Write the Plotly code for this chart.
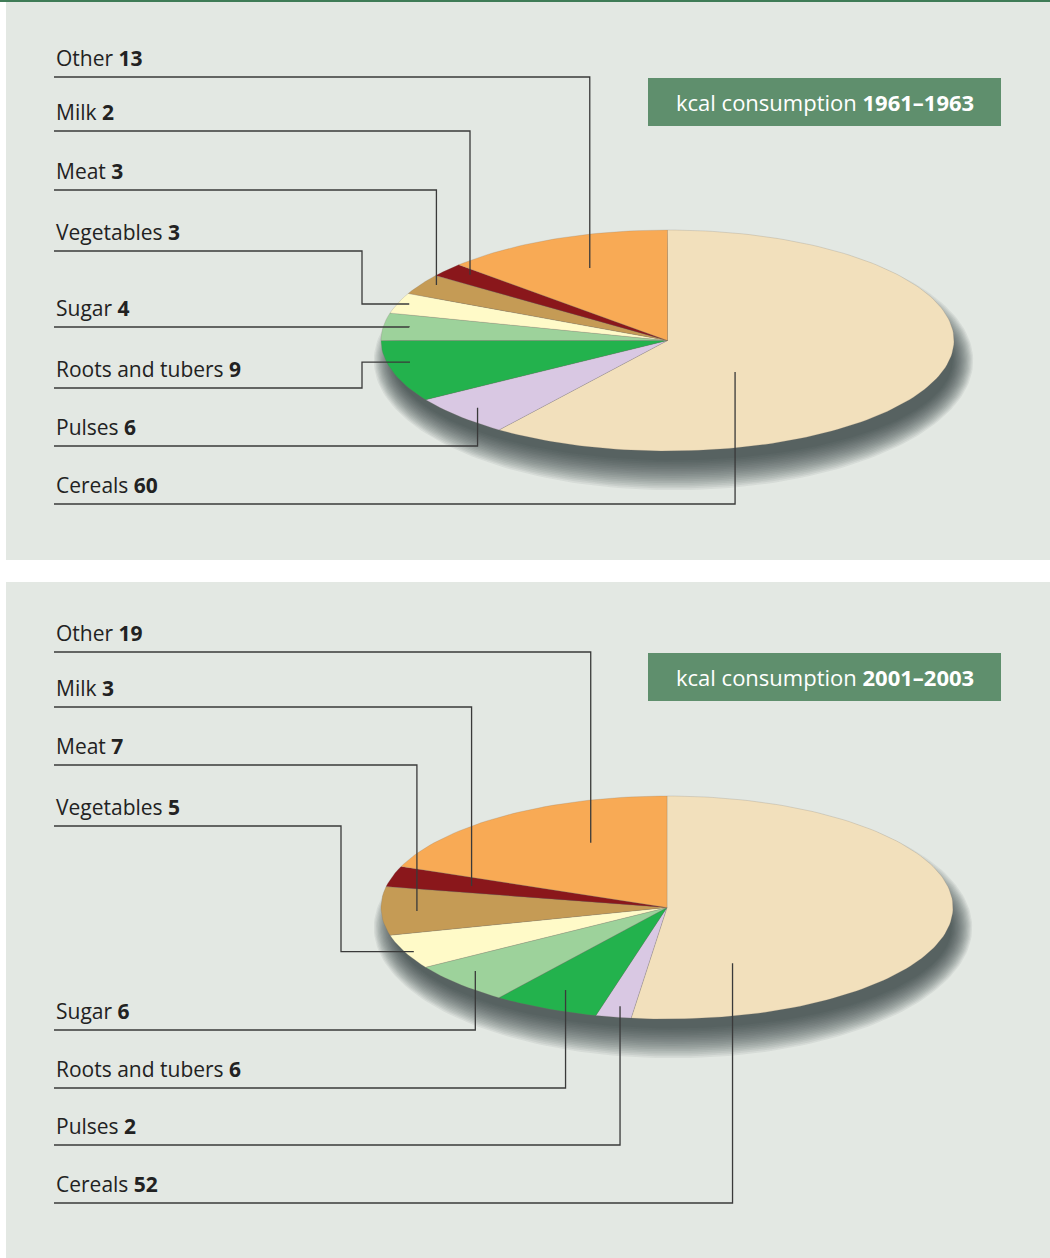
import numpy as np
import plotly.graph_objects as go

# share of daily kcal by food group (%)
categories = ["Cereals", "Pulses", "Roots and tubers", "Sugar", "Vegetables", "Meat", "Milk", "Other"]
share_1961 = [60, 6, 9, 4, 3, 3, 2, 13]
share_2001 = [52, 2, 6, 6, 5, 7, 3, 19]
periods = ["1961–1963", "2001–2003"]

colours = ["#f2e0bc", "#d9c8e3", "#23b24d", "#9dd29b", "#fffac8", "#c59b55", "#8a171b", "#f8aa55"]

FONT = "Open Sans"
W, H = 1050, 1258

# panel geometry (pixel space), leader anchors as (fraction within slice, fraction of radius)
panels = [
    dict(values=share_1961, period=periods[0], top=2, bottom=560,
         cx=667.5, cy=340.5, rx=286.5, ry=110.5, box=(648, 78, 1001, 126),
         label_y=[504, 446, 388, 327, 251, 190, 131, 77],
         anchor=[(0.65, 0.37), (0.53, 0.90), (0.62, 0.92), (0.53, 0.91),
                 (0.53, 0.96), (0.62, 0.95), (0.66, 0.91), (0.52, 0.71)],
         elbow={2: 362, 4: 362}),
    dict(values=share_2001, period=periods[1], top=582, bottom=1258,
         cx=667, cy=907.5, rx=286, ry=111.5, box=(648, 653, 1001, 701),
         label_y=[1203, 1145, 1088, 1030, 826, 765, 707, 652],
         anchor=[(0.83, 0.55), (0.46, 0.90), (0.52, 0.82), (0.63, 0.88),
                 (0.46, 0.97), (0.49, 0.875), (0.46, 0.71), (0.64, 0.64)],
         elbow={4: 341}),
]


def ell(cx, cy, rx, ry, a0=0.0, a1=2 * np.pi, n=240):
    t = np.linspace(a0, a1, max(int(n * (a1 - a0) / (2 * np.pi)), 3))
    return cx + rx * np.sin(t), cy - ry * np.cos(t)


fig = go.Figure()
shapes = [dict(type="rect", xref="x", yref="y", x0=0, x1=W, y0=0, y1=2,
               fillcolor="#3f7c57", line_width=0, layer="below")]
annotations = []

for p in panels:
    shapes.append(dict(type="rect", xref="x", yref="y", x0=6, x1=W, y0=p["top"], y1=p["bottom"],
                       fillcolor="#e3e8e3", line_width=0, layer="below"))
    cx, cy, rx, ry = p["cx"], p["cy"], p["rx"], p["ry"]

    # soft drop shadow, below the disc only
    for i in range(18):
        grow = 24 - 2.2 * i
        xs, ys = ell(cx + 6, cy + 20, rx + 0.55 * grow, ry + 0.8 * grow)
        fig.add_trace(go.Scatter(x=xs, y=ys, fill="toself", mode="lines", line_width=0,
                                 fillcolor="rgba(45,50,55,0.07)", hoverinfo="skip", showlegend=False))

    # slices, clockwise from 12 o'clock
    total = sum(p["values"])
    cum = np.concatenate([[0], np.cumsum(p["values"])]) / total * 2 * np.pi
    for k, cat in enumerate(categories):
        ax, ay = ell(cx, cy, rx, ry, cum[k], cum[k + 1])
        xs = np.concatenate([[cx], ax, [cx]])
        ys = np.concatenate([[cy], ay, [cy]])
        fig.add_trace(go.Scatter(x=xs, y=ys, fill="toself", mode="lines",
                                 line=dict(color="rgba(120,110,100,0.35)", width=0.6),
                                 fillcolor=colours[k], name=cat, hoverinfo="name", showlegend=False))

    # leaders and labels
    for k, cat in enumerate(categories):
        t, f = p["anchor"][k]
        th = cum[k] + t * (cum[k + 1] - cum[k])
        axp = cx + f * rx * np.sin(th)
        ayp = cy - f * ry * np.cos(th)
        uy = p["label_y"][k]
        ex = p["elbow"].get(k, axp)
        fig.add_trace(go.Scatter(x=[54, ex, ex, axp], y=[uy, uy, ayp, ayp], mode="lines",
                                 line=dict(color="#3a3a3a", width=1.3),
                                 hoverinfo="skip", showlegend=False))
        annotations.append(dict(x=54, y=uy - 19, xref="x", yref="y", xanchor="left", yanchor="middle",
                                text=f"{cat} <b>{p['values'][k]}</b>", showarrow=False,
                                font=dict(family=FONT, size=21, color="#222222")))

    x0, y0, x1, y1 = p["box"]
    shapes.append(dict(type="rect", xref="x", yref="y", x0=x0, x1=x1, y0=y0, y1=y1,
                       fillcolor="#5f8f6d", line_width=0))
    annotations.append(dict(x=(x0 + x1) / 2, y=(y0 + y1) / 2, xref="x", yref="y",
                            text=f"kcal consumption <b>{p['period']}</b>", showarrow=False,
                            font=dict(family=FONT, size=22, color="white")))

fig.update_layout(
    width=W, height=H, margin=dict(l=0, r=0, t=0, b=0),
    paper_bgcolor="white", plot_bgcolor="white",
    shapes=shapes, annotations=annotations, showlegend=False,
    xaxis=dict(range=[0, W], visible=False, fixedrange=True),
    yaxis=dict(range=[H, 0], visible=False, fixedrange=True),
)

fig.write_html("out.html", config={"displayModeBar": False},
               post_script="document.body.style.margin = '0';")
